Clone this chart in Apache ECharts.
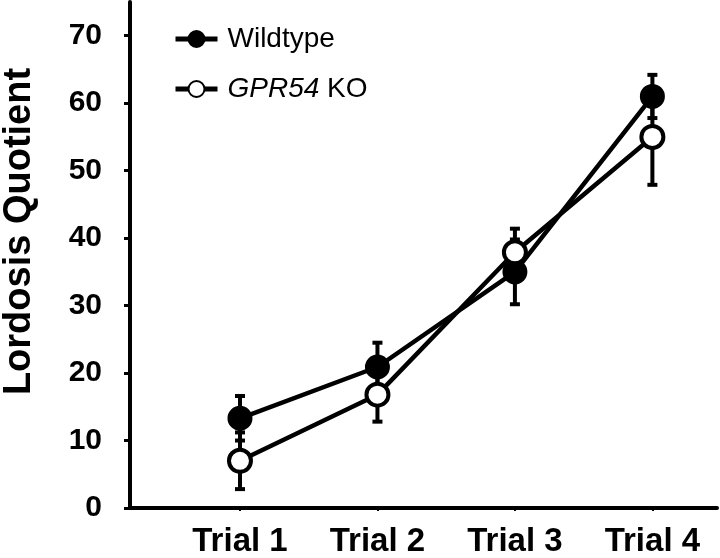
<!DOCTYPE html>
<html>
<head>
<meta charset="utf-8">
<script src="https://cdn.jsdelivr.net/npm/echarts@6/dist/echarts.min.js"></script>
<style>
html,body{margin:0;padding:0;background:#fff;}
#chart{width:720px;height:558px;}
</style>
</head>
<body>
<div id="chart"></div>
<script>
var categories = ['Trial 1', 'Trial 2', 'Trial 3', 'Trial 4'];
var seriesNames = ['Wildtype', 'GPR54 KO'];
var wildtype = [13.3, 20.9, 35.0, 61.0];
var wildtypeErr = [3.3, 3.6, 4.8, 3.2];
var knockout = [7.0, 16.8, 37.9, 55.0];
var knockoutErr = [4.2, 4.0, 3.5, 7.1];
var yTicks = [0, 10, 20, 30, 40, 50, 60, 70];

var FONT = 'Liberation Sans, Arial, Helvetica, sans-serif';
var chart = echarts.init(document.getElementById('chart'), null, {renderer: 'canvas'});

function pts(vals) { return vals.map(function (v, i) { return [i + 1, v]; }); }
function errData(vals, errs) { return vals.map(function (v, i) { return [i + 1, v - errs[i], v + errs[i]]; }); }

function renderErr(params, api) {
  var x = api.value(0);
  var lo = api.coord([x, api.value(1)]);
  var hi = api.coord([x, api.value(2)]);
  var cw = 5;
  var st = {stroke: '#000', lineWidth: 4};
  return {
    type: 'group',
    children: [
      {type: 'line', shape: {x1: lo[0], y1: lo[1], x2: hi[0], y2: hi[1]}, style: st},
      {type: 'line', shape: {x1: lo[0] - cw, y1: lo[1], x2: lo[0] + cw, y2: lo[1]}, style: st},
      {type: 'line', shape: {x1: hi[0] - cw, y1: hi[1], x2: hi[0] + cw, y2: hi[1]}, style: st}
    ]
  };
}

var tickValues = categories.map(function (c, i) { return i + 1; });

var option = {
  backgroundColor: '#fff',
  animation: false,
  grid: {left: 130, right: 3, top: 2, bottom: 50, containLabel: false, outerBoundsMode: 'none'},
  legend: {
    orient: 'vertical',
    left: 168,
    top: 20,
    itemWidth: 42,
    itemHeight: 20,
    itemGap: 22,
    data: seriesNames,
    lineStyle: {width: 5, color: '#000'},
    textStyle: {
      fontFamily: FONT, fontSize: 28, color: '#000', padding: [0, 0, 0, 5],
      rich: {i: {fontFamily: FONT, fontSize: 28, fontStyle: 'italic', color: '#000'}}
    },
    formatter: function (name) {
      return name === 'GPR54 KO' ? '{i|GPR54} KO' : name;
    }
  },
  xAxis: {
    type: 'value',
    min: 0.2,
    max: 4.47,
    splitLine: {show: false},
    axisLine: {show: true, lineStyle: {color: '#000', width: 4}},
    axisTick: {show: true, length: 3, customValues: tickValues, lineStyle: {color: '#000', width: 2}},
    axisLabel: {
      customValues: tickValues,
      margin: 17,
      fontFamily: FONT, fontSize: 33, fontWeight: 'bold', color: '#000',
      formatter: function (v) { return categories[Math.round(v) - 1] || ''; }
    }
  },
  yAxis: {
    type: 'value',
    min: 0,
    max: 75,
    splitLine: {show: false},
    axisLine: {show: true, lineStyle: {color: '#000', width: 4}},
    axisTick: {show: true, length: 6, customValues: yTicks, lineStyle: {color: '#000', width: 3}},
    axisLabel: {
      customValues: yTicks,
      margin: 28,
      fontFamily: FONT, fontSize: 30, fontWeight: 'bold', color: '#000'
    },
    name: 'Lordosis Quotient',
    nameLocation: 'middle',
    nameRotate: 90,
    nameGap: 91,
    nameTextStyle: {fontFamily: FONT, fontSize: 38, fontWeight: 'bold', color: '#000', padding: [0, 0, 0, 47]}
  },
  series: [
    {
      type: 'custom', name: 'wtErr', renderItem: renderErr, data: errData(wildtype, wildtypeErr),
      z: 1, silent: true, encode: {x: 0, y: [1, 2]}
    },
    {
      type: 'custom', name: 'koErr', renderItem: renderErr, data: errData(knockout, knockoutErr),
      z: 1, silent: true, encode: {x: 0, y: [1, 2]}
    },
    {
      name: seriesNames[0], type: 'line', data: pts(wildtype), z: 3,
      symbol: 'circle', symbolSize: 23,
      lineStyle: {color: '#000', width: 4.5},
      itemStyle: {color: '#000', borderColor: '#000', borderWidth: 2}
    },
    {
      name: seriesNames[1], type: 'line', data: pts(knockout), z: 4,
      symbol: 'circle', symbolSize: 22,
      lineStyle: {color: '#000', width: 4.5},
      itemStyle: {color: '#fff', borderColor: '#000', borderWidth: 4}
    }
  ]
};
chart.setOption(option);
</script>
</body>
</html>
